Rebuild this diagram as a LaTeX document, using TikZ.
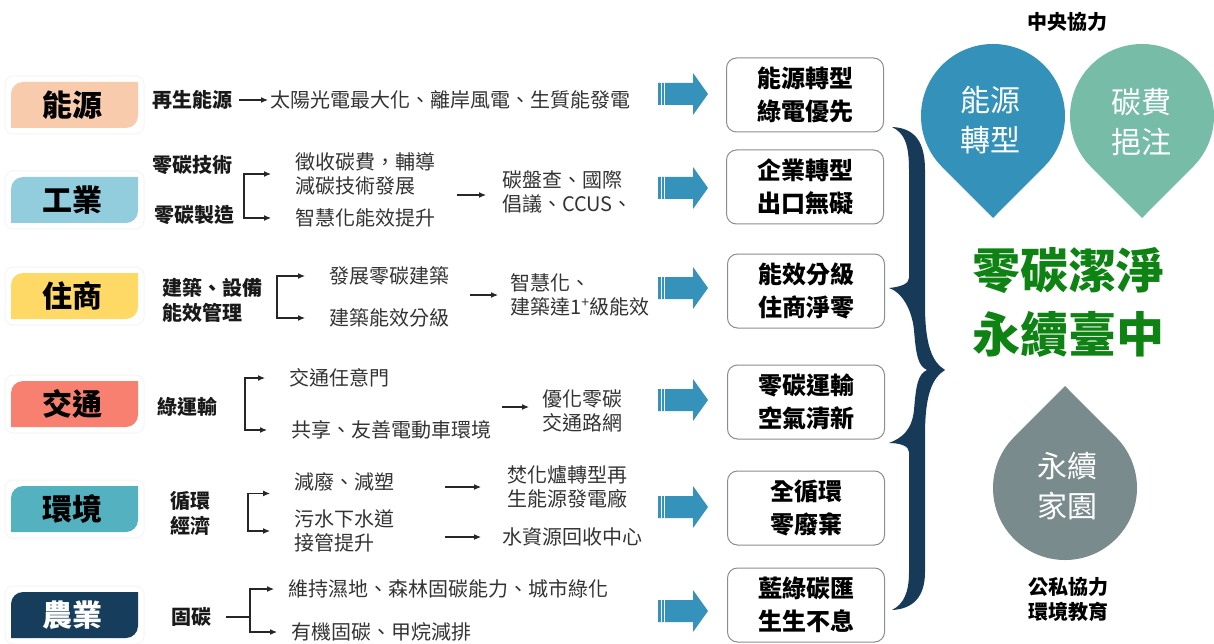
\documentclass[tikz,border=0pt]{standalone}
\usepackage{fontspec}
\setmainfont{Noto Sans CJK TC}
\usepackage{tikz}
\usetikzlibrary{shapes,arrows.meta}

\definecolor{cEnergy}{RGB}{248,203,173}
\definecolor{cInd}{RGB}{146,205,221}
\definecolor{cRes}{RGB}{255,217,102}
\definecolor{cTra}{RGB}{247,128,112}
\definecolor{cEnv}{RGB}{84,177,192}
\definecolor{cAgr}{RGB}{22,62,92}
\definecolor{cBrace}{RGB}{22,58,88}
\definecolor{cBlock}{RGB}{53,146,187}
\definecolor{cDropA}{RGB}{52,146,186}
\definecolor{cDropB}{RGB}{118,188,167}
\definecolor{cDropC}{RGB}{122,139,142}
\definecolor{cGreen}{RGB}{14,130,18}

\tikzset{
	tabtxt/.style={font=\fontsize{30}{32}\selectfont\bfseries},
	lbl/.style={font=\fontsize{20}{25}\selectfont\bfseries, text=black!90, align=left, anchor=west, inner sep=2pt},
	txt/.style={font=\fontsize{20}{24}\selectfont, text=black!80, align=left, anchor=west, inner sep=2pt},
	goal/.style={draw=black!45, line width=1pt, rounded corners=10pt, fill=white,
		minimum width=157pt, minimum height=74pt, align=center,
		font=\fontsize{24}{33}\selectfont\bfseries},
	arr/.style={-{Latex[length=7pt,width=6pt]}, line width=1.1pt, black!85},
	brk/.style={arr, shorten >=22pt},
	droptxt/.style={text=white, align=center, font=\fontsize{30}{40}\selectfont},
	note/.style={align=center, font=\fontsize{20}{25}\selectfont\bfseries},
}

\begin{document}
\begin{tikzpicture}[x=1pt,y=1pt]
	\useasboundingbox (0,0) rectangle (1214,-644);

	% sector tabs
	\foreach \nm/\yc/\col/\lab/\tc in {energy/105/cEnergy/能源/black,
		ind/200/cInd/工業/black, res/296/cRes/住商/black,
		tra/404/cTra/交通/black, env/509/cEnv/環境/black, agr/615/cAgr/農業/white}
	{
		\begin{scope}[shift={(0,-\yc)}]
			\draw[black!4, line width=1pt, fill=white, rounded corners=8pt] (5,-29) rectangle (144,29);
			\fill[\col] (11,-23) -- (11,11) arc[start angle=180, end angle=90, radius=12pt]
				-- (138,23) -- (138,-11) arc[start angle=0, end angle=-90, radius=12pt] -- cycle;
			\node[tabtxt, text=\tc] (\nm) at (72,0) {\lab};
		\end{scope}
	}

	% energy
	\node[lbl] (ren) at (150,-100) {再生能源};
	\node[txt] (ren-d) at (268,-100) {太陽光電最大化、離岸風電、生質能發電};
	\path[arr, shorten <=5pt] (ren.east) edge (ren-d.west);

	% industry
	\node[lbl] (ind-t) at (150,-165) {零碳技術};
	\node[lbl] (ind-m) at (152,-215) {零碳製造};
	\node[txt] (ind-a) at (293,-174) {徵收碳費，輔導\\減碳技術發展};
	\node[txt] (ind-b) at (293,-218) {智慧化能效提升};
	\node[txt] (ind-c) at (500,-192) {碳盤查、國際\\倡議、CCUS、};
	\coordinate (ind-s) at (244,-197);
	\coordinate (ind-o) at (457,-195);
	\draw[brk] (ind-s) |- (ind-a.west);
	\draw[brk] (ind-s) |- (ind-b.west);
	\draw[arr, shorten >=14pt] (ind-o) -- (ind-o -| ind-c.west);

	% residential and commercial
	\node[lbl] (res-l) at (160,-300) {建築、設備\\能效管理};
	\node[txt] (res-a) at (327,-276) {發展零碳建築};
	\node[txt] (res-b) at (327,-318) {建築能效分級};
	\node[txt] (res-c) at (508,-295) {智慧化、\\建築達1\textsuperscript{+}級能效};
	\coordinate (res-s) at (277,-297);
	\coordinate (res-o) at (470,-295);
	\draw[brk] (res-s) |- (res-a.west);
	\draw[brk] (res-s) |- (res-b.west);
	\draw[arr, shorten >=10pt] (res-o) -- (res-c.west);

	% transport
	\node[lbl] (tra-l) at (155,-407) {綠運輸};
	\node[txt] (tra-a) at (287,-378) {交通任意門};
	\node[txt] (tra-b) at (289,-430) {共享、友善電動車環境};
	\node[txt] (tra-c) at (540,-411) {優化零碳\\交通路網};
	\coordinate (tra-s) at (245,-404);
	\coordinate (tra-o) at (502,-407);
	\draw[brk] (tra-s) |- (tra-a.west);
	\draw[brk] (tra-s) |- (tra-b.west);
	\draw[arr, shorten >=11pt] (tra-o) -- (tra-o -| tra-c.west);

	% environment
	\node[lbl] (env-l) at (168,-513) {循環\\經濟};
	\node[txt] (env-a) at (292,-482) {減廢、減塑};
	\node[txt] (env-b) at (292,-531) {污水下水道\\接管提升};
	\node[txt] (env-c) at (505,-487) {焚化爐轉型再\\生能源發電廠};
	\node[txt] (env-d) at (500,-537) {水資源回收中心};
	\coordinate (env-s) at (248,-513);
	\coordinate (env-o) at (445,-487);
	\coordinate (env-p) at (445,-537);
	\draw[brk] (env-s) |- (env-a.south west);
	\draw[brk] (env-s) |- (env-b.west);
	\draw[arr, shorten >=24pt] (env-o) -- (env-c.west);
	\draw[arr, shorten >=19pt] (env-p) -- (env-d.west);

	% agriculture
	\node[lbl] (agr-l) at (169,-617) {固碳};
	\node[txt] (agr-a) at (286,-589) {維持濕地、森林固碳能力、城市綠化};
	\node[txt] (agr-b) at (289,-632) {有機固碳、甲烷減排};
	\coordinate (agr-s) at (250,-617);
	\draw[line width=1.1pt, black!85, shorten <=13pt] (agr-l.east) -- (agr-s);
	\draw[arr, shorten >=12pt] (agr-s) |- (agr-a.west);
	\draw[arr, shorten >=12pt] (agr-s) |- (agr-b.west);

	% block arrows
	\foreach \y in {94,188,288,400,507,611}
	{
		\begin{scope}[shift={(658,-\y)}]
			\fill[cBlock] (0,11) -- (35,11) -- (35,21) -- (50,0) -- (35,-21) -- (35,-11) -- (0,-11) -- cycle;
			\draw[white, line width=0.6pt] (3,11) -- (3,-11) (6,11) -- (6,-11);
		\end{scope}
	}

	% goals
	\node[goal] (g1) at (805,-95) {能源轉型\\綠電優先};
	\node[goal] (g2) at (805,-187) {企業轉型\\出口無礙};
	\node[goal] (g3) at (806,-291) {能效分級\\住商淨零};
	\node[goal] (g4) at (806,-402) {零碳運輸\\空氣清新};
	\node[goal] (g5) at (806,-508) {全循環\\零廢棄};
	\node[goal] (g6) at (806,-605) {藍綠碳匯\\生生不息};

	% brace
	\fill[cBrace] (892,-127)
		.. controls (915,-128) and (925,-142) .. (925,-170)
		-- (925,-305)
		.. controls (925,-345) and (932,-362) .. (945,-370)
		.. controls (932,-378) and (925,-395) .. (925,-435)
		-- (925,-572)
		.. controls (925,-598) and (912,-609) .. (892,-610)
		.. controls (904,-604) and (909,-592) .. (909,-572)
		-- (909,-452)
		.. controls (909,-446) and (900,-443) .. (889,-443)
		.. controls (902,-438) and (912,-430) .. (914,-410)
		.. controls (916,-385) and (918,-374) .. (927,-370)
		.. controls (918,-366) and (916,-355) .. (914,-330)
		.. controls (912,-310) and (902,-292) .. (889,-288)
		.. controls (900,-287) and (909,-284) .. (909,-278)
		-- (909,-170)
		.. controls (909,-143) and (904,-133) .. (892,-127)
		-- cycle;

	% drops
	\fill[cDropA] (993,-218) -- (1043.9,-166.9) arc[start angle=-45, end angle=225, radius=72pt] -- cycle;
	\fill[cDropB] (1142,-218) -- (1192.9,-166.9) arc[start angle=-45, end angle=225, radius=72pt] -- cycle;
	\fill[cDropC] (1065,-386) -- (1115.9,-437.1) arc[start angle=45, end angle=-225, radius=72pt] -- cycle;
	\node[droptxt] (dropA) at (990,-120) {能源\\轉型};
	\node[droptxt] (dropB) at (1141,-122) {碳費\\挹注};
	\node[droptxt] (dropC) at (1067,-486) {永續\\家園};

	\node[note] (central) at (1067,-22) {中央協力};
	\node[note] (public) at (1068,-600) {公私協力\\環境教育};
	\node[align=center, text=cGreen, font=\fontsize{48}{64}\selectfont\bfseries] (vision) at (1068,-302) {零碳潔淨\\永續臺中};
\end{tikzpicture}
\end{document}
